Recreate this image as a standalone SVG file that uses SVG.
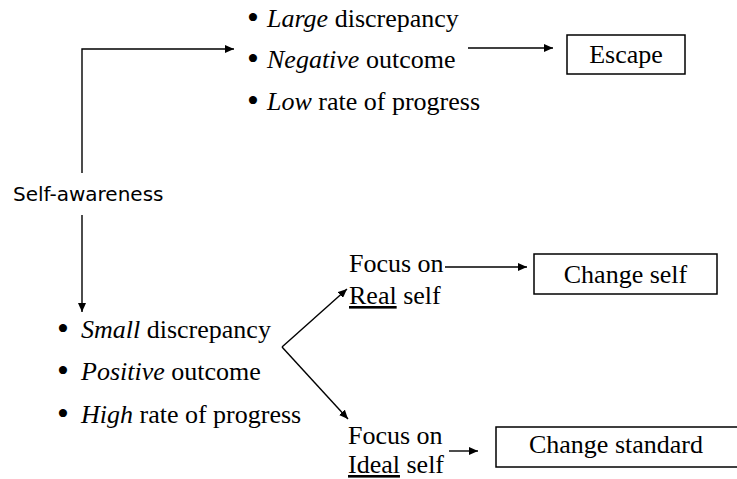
<svg xmlns="http://www.w3.org/2000/svg" width="737" height="479" viewBox="0 0 737 479">
<style>
  .t { font-family: "Liberation Serif", "Times New Roman", serif; font-size: 26px; fill: #000; }
  .s { font-family: "DejaVu Sans", Verdana, sans-serif; font-size: 20px; fill: #000; }
  .b { font-size: 34px; }
  .i { font-style: italic; }
  .u { text-decoration: underline; }
  .box { fill: #fff; stroke: #000; stroke-width: 1.5; }
  .line { fill: none; stroke: #000; stroke-width: 1.4; }
</style>
<defs>
  <marker id="ah" markerUnits="userSpaceOnUse" markerWidth="10" markerHeight="8" refX="9" refY="4" orient="auto">
    <path d="M0,0 L9,4 L0,8 Z" fill="#000"/>
  </marker>
</defs>
<rect width="737" height="479" fill="#fff"/>

<g id="connectors">
  <polyline class="line" points="82,173 82,49 234,49" marker-end="url(#ah)"/>
  <line class="line" x1="82" y1="215" x2="82" y2="312" marker-end="url(#ah)"/>
  <line class="line" x1="468" y1="48" x2="553" y2="48" marker-end="url(#ah)"/>
  <line class="line" x1="282" y1="347" x2="347" y2="289" marker-end="url(#ah)"/>
  <line class="line" x1="282" y1="347" x2="348" y2="419" marker-end="url(#ah)"/>
  <line class="line" x1="445" y1="267" x2="527" y2="267" marker-end="url(#ah)"/>
  <line class="line" x1="449" y1="451" x2="478" y2="451" marker-end="url(#ah)"/>
</g>

<g id="self-awareness">
  <text class="s" x="13" y="201">Self-awareness</text>
</g>

<g id="high-discrepancy">
  <text class="t" x="247" y="29"><tspan class="b">•</tspan><tspan x="267" y="27" class="i">Large</tspan> discrepancy</text>
  <text class="t" x="247" y="70"><tspan class="b">•</tspan><tspan x="267" y="68" class="i">Negative</tspan> outcome</text>
  <text class="t" x="247" y="112"><tspan class="b">•</tspan><tspan x="267" y="110" class="i">Low</tspan> rate of progress</text>
</g>

<g id="escape">
  <rect class="box" x="567" y="35" width="118" height="39"/>
  <text class="t" x="626" y="63" text-anchor="middle">Escape</text>
</g>

<g id="low-discrepancy">
  <text class="t" x="57" y="340"><tspan class="b">•</tspan><tspan x="81" y="338" class="i">Small</tspan> discrepancy</text>
  <text class="t" x="57" y="382"><tspan class="b">•</tspan><tspan x="81" y="380" class="i">Positive</tspan> outcome</text>
  <text class="t" x="57" y="425"><tspan class="b">•</tspan><tspan x="81" y="423" class="i">High</tspan> rate of progress</text>
</g>

<g id="focus-real">
  <text class="t" x="349" y="272">Focus on</text>
  <text class="t" x="349" y="304"><tspan class="u">Real</tspan> self</text>
</g>

<g id="change-self">
  <rect class="box" x="534" y="254" width="183" height="40"/>
  <text class="t" x="625.5" y="283" text-anchor="middle">Change self</text>
</g>

<g id="focus-ideal">
  <text class="t" x="348" y="444">Focus on</text>
  <text class="t" x="348" y="473"><tspan class="u">Ideal</tspan> self</text>
</g>

<g id="change-standard">
  <rect class="box" x="496" y="427" width="260" height="40"/>
  <text class="t" x="616" y="453" text-anchor="middle">Change standard</text>
</g>
</svg>
